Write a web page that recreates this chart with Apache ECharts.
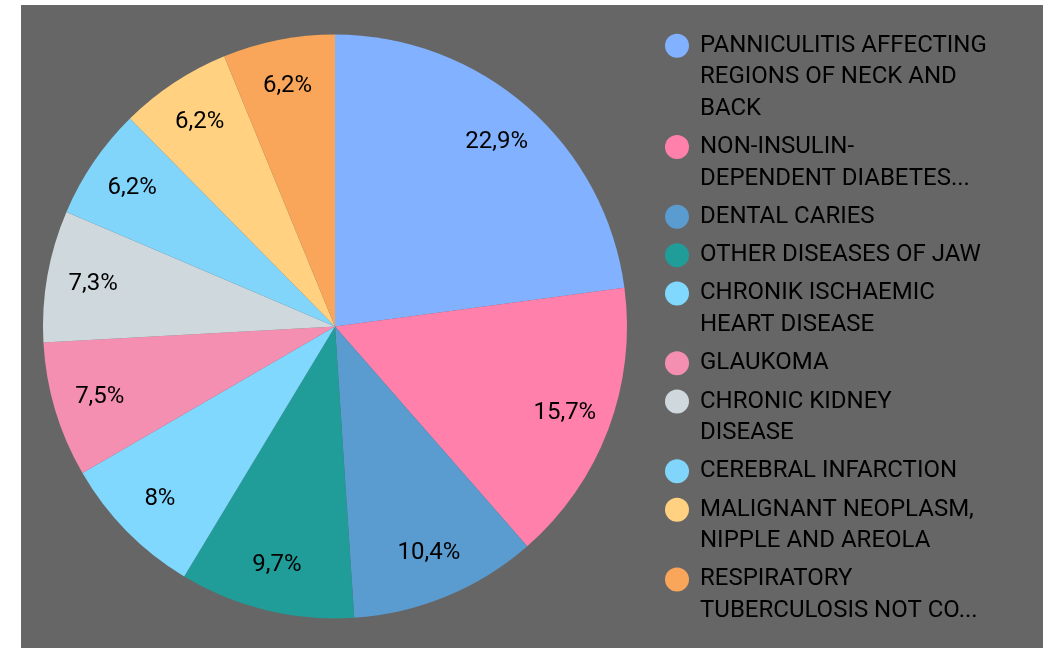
<!DOCTYPE html>
<html>
<head>
<meta charset="utf-8">
<script src="https://cdn.jsdelivr.net/npm/echarts@6/dist/echarts.min.js"></script>
<style>
  html, body { margin: 0; padding: 0; background: #fff; }
  #chart { position: absolute; left: 21px; top: 5px; width: 1022px; height: 643px; }
</style>
</head>
<body>
<div id="chart"></div>
<script>
// data
const categories = [
  'PANNICULITIS AFFECTING REGIONS OF NECK AND BACK',
  'NON-INSULIN-DEPENDENT DIABETES MELLITUS',
  'DENTAL CARIES',
  'OTHER DISEASES OF JAW',
  'CHRONIK ISCHAEMIC HEART DISEASE',
  'GLAUKOMA',
  'CHRONIC KIDNEY DISEASE',
  'CEREBRAL INFARCTION',
  'MALIGNANT NEOPLASM, NIPPLE AND AREOLA',
  'RESPIRATORY TUBERCULOSIS NOT CONFIRMED'
];
// legend text as it is wrapped / cut in the picture
const legendLines = [
  ['PANNICULITIS AFFECTING', 'REGIONS OF NECK AND', 'BACK'],
  ['NON-INSULIN-', 'DEPENDENT DIABETES...'],
  ['DENTAL CARIES'],
  ['OTHER DISEASES OF JAW'],
  ['CHRONIK ISCHAEMIC', 'HEART DISEASE'],
  ['GLAUKOMA'],
  ['CHRONIC KIDNEY', 'DISEASE'],
  ['CEREBRAL INFARCTION'],
  ['MALIGNANT NEOPLASM,', 'NIPPLE AND AREOLA'],
  ['RESPIRATORY', 'TUBERCULOSIS NOT CO...']
];
const shares = [22.9, 15.7, 10.4, 9.7, 8, 7.5, 7.3, 6.2, 6.2, 6.2];
const colors = ['#82B1FF', '#FF80AB', '#5A9BD0', '#209C99', '#80D8FF',
                '#F48FB1', '#CFD8DC', '#81D4FA', '#FFD180', '#F9A65A'];

const FONT = 'Roboto';
const chart = echarts.init(document.getElementById('chart'));

const rich = {
  t: { fontFamily: FONT, fontSize: 24, color: '#000', lineHeight: 31.5, padding: [0, 0, 0, 11] },
  sp: { width: 24, lineHeight: 31.5 }
};
colors.forEach((c, i) => {
  rich['d' + i] = { width: 24, height: 24, borderRadius: 12, backgroundColor: c, lineHeight: 31.5 };
});

const pieData = categories.map((name, i) => ({
  name: name,
  value: shares[i],
  itemStyle: { color: colors[i] }
}));

const option = {
  backgroundColor: '#666666',
  animation: false,
  legend: {
    orient: 'vertical',
    left: 638,
    top: 25,
    padding: 0,
    itemGap: 6.8,
    itemWidth: 1,
    itemHeight: 1,
    itemStyle: { opacity: 0 },
    data: categories,
    textStyle: { fontFamily: FONT, fontSize: 24, color: '#000', lineHeight: 31.5, rich: rich },
    formatter: function (name) {
      const i = categories.indexOf(name);
      const lines = legendLines[i];
      let s = '{d' + i + '| }{t|' + lines[0] + '}';
      for (let k = 1; k < lines.length; k++) {
        s += '\n{sp| }{t|' + lines[k] + '}';
      }
      return s;
    }
  },
  series: [
    {
      type: 'pie',
      center: [314, 321.5],
      radius: 292,
      startAngle: 90,
      label: { show: false },
      labelLine: { show: false },
      emphasis: { scale: false },
      data: pieData
    },
    {
      // transparent ring only used to place the percent labels
      type: 'pie',
      center: [314, 321.5],
      radius: [193, 292],
      startAngle: 90,
      silent: true,
      itemStyle: { color: 'rgba(0,0,0,0)' },
      label: {
        show: true,
        position: 'inside',
        fontFamily: FONT,
        fontSize: 24,
        color: '#000',
        formatter: function (p) {
          return String(p.value).replace('.', ',') + '%';
        }
      },
      labelLine: { show: false },
      data: categories.map((name, i) => ({ name: name, value: shares[i] }))
    }
  ]
};

chart.setOption(option);
</script>
</body>
</html>
